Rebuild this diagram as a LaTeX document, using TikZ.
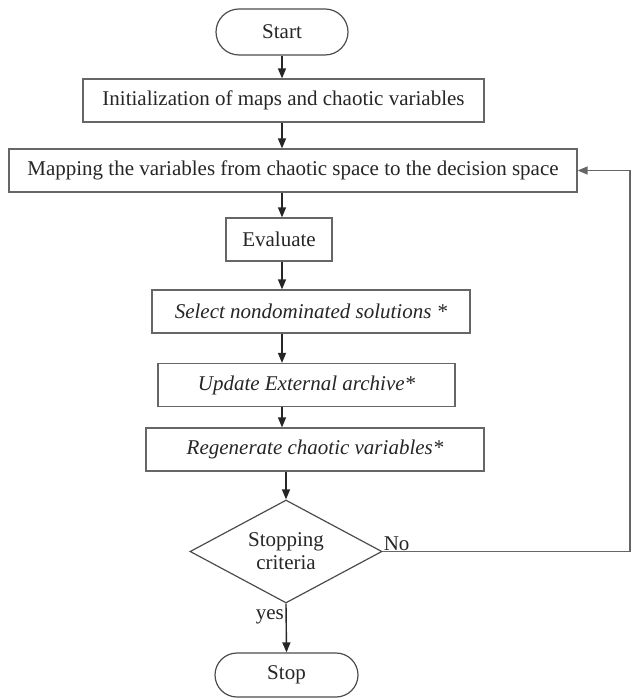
\documentclass[tikz,border=0pt]{standalone}
\usepackage{fontspec}
\setmainfont{Liberation Serif}
\usetikzlibrary{arrows.meta, shapes.geometric, shapes.misc, positioning}
\tikzset{
    term/.style={rounded rectangle, draw=black!70, line width=1.2pt, fill=white, minimum width=132pt, minimum height=46pt, inner sep=0pt, font=\fontsize{21}{23}\selectfont, text=black!85},
    stepbox/.style={rectangle, draw=black!60, line width=1.2pt, fill=white, minimum height=43pt, inner sep=0pt, align=center, font=\fontsize{21}{23}\selectfont, text=black!85},
    decision/.style={diamond, draw=black!70, line width=1.2pt, fill=white, minimum width=192pt, minimum height=103pt, inner sep=0pt, aspect=2, align=center, font=\fontsize{21}{23}\selectfont, text=black!85},
    arrow/.style={-{Triangle[length=10pt,width=8pt]}, line width=1.4pt, black!85},
    loopline/.style={-{Triangle[length=10pt,width=8pt]}, line width=1.4pt, black!60},
    label/.style={font=\fontsize{21}{23}\selectfont, text=black!85, inner sep=1pt}
}

\begin{document}
\begin{tikzpicture}[x=1pt, y=-1pt]
    \useasboundingbox (0,0) rectangle (630,700);

    % Main column
    \coordinate (axis) at (282, 0);

    \node[term] (start) at (282, 32) {Start};
    \node[stepbox, minimum width=401pt] (init) at (283.5, 100.5) {Initialization of maps and chaotic variables};
    \node[stepbox, minimum width=568pt] (map) at (293, 170.5) {Mapping the variables from chaotic space to the decision space};
    \node[stepbox, minimum width=106pt] (eval) at (279, 239.5) {Evaluate};
    \node[stepbox, minimum width=318pt] (sel) at (311, 311.5) {\itshape Select nondominated solutions *};
    \node[stepbox, minimum width=297pt] (upd) at (306.5, 385) {\itshape Update External archive*};
    \node[stepbox, minimum width=338pt] (regen) at (315, 449.5) {\itshape Regenerate chaotic variables*};
    \node[decision] (dec) at (286, 551.5) {Stopping\\criteria};
    \node[term, minimum width=143pt, minimum height=44pt] (stop) at (286.5, 675) {Stop};

    % Arrows
    \draw[arrow] (axis |- start.south) -- (axis |- init.north);
    \draw[arrow] (axis |- init.south) -- (axis |- map.north);
    \draw[arrow] (axis |- map.south) -- (axis |- eval.north);
    \draw[arrow] (axis |- eval.south) -- (axis |- sel.north);
    \draw[arrow] (axis |- sel.south) -- (axis |- upd.north);
    \draw[arrow] (axis |- upd.south) -- (axis |- regen.north);
    \draw[arrow] (dec.north |- regen.south) -- (dec.north);
    \draw[arrow] (dec.south) -- (stop.north);

    % Loop back
    \coordinate (back) at (630, 551.5);
    \draw[loopline] (dec.east) -- (back) |- (map.east);

    % Labels
    \node[label, anchor=south west] (no) at (dec.east) {No};
    \node[label, anchor=east] (yes) at (285, 617) {yes};
\end{tikzpicture}
\end{document}
